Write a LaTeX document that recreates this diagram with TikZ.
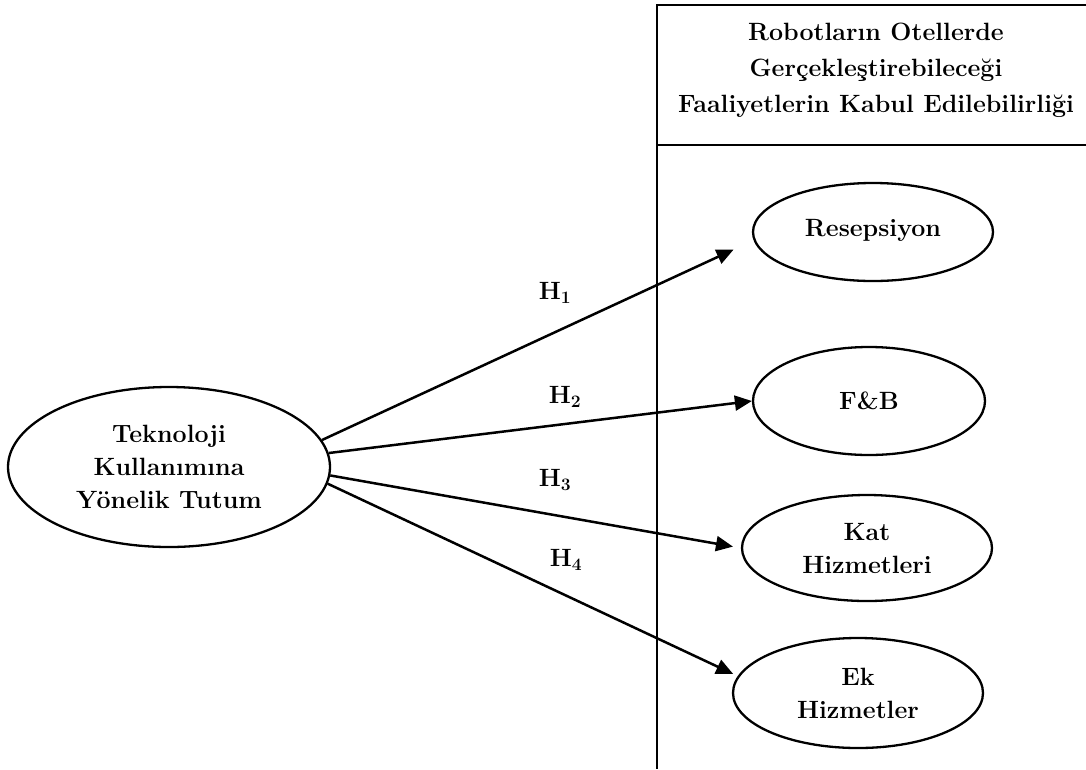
\documentclass[tikz,border=0pt]{standalone}
\usepackage{fontspec}
\usepackage{tikz}
\usetikzlibrary{shapes.geometric,arrows.meta}

\tikzset{
	konstrukt/.style={draw, ellipse, line width=2.3pt, inner sep=0pt, align=center,
		font=\bfseries\fontsize{25}{33}\selectfont},
	hipotez/.style={-{Triangle[length=17pt,width=15pt]}, line width=2.5pt},
	etiket/.style={font=\bfseries\fontsize{25}{28}\selectfont}
}

\begin{document}
\begin{tikzpicture}[x=1pt,y=-1pt]
	\useasboundingbox (0,0) rectangle (1086,769);
	%% header column
	\draw[line width=2.6pt] (1086,5) -- (657,5) -- (657,769);
	\draw[line width=2.6pt] (657,145) -- (1086,145);
	\node[align=center, font=\bfseries\fontsize{25}{36}\selectfont] (baslik) at (876,70)
		{Robotların Otellerde\\Gerçekleştirebileceği\\Faaliyetlerin Kabul Edilebilirliği};
	%% constructs
	\node[konstrukt, minimum width=322pt, minimum height=160pt] (tutum) at (169,467)
		{Teknoloji\\Kullanımına\\Yönelik Tutum};
	\node[konstrukt, minimum width=240pt, minimum height=98pt] (resepsiyon) at (873,232)
		{\raisebox{9pt}{Resepsiyon}};
	\node[konstrukt, minimum width=232pt, minimum height=108pt] (fb) at (869,401) {F\&B};
	\node[konstrukt, minimum width=250pt, minimum height=106pt] (kat) at (867,548) {Kat\\Hizmetleri};
	\node[konstrukt, minimum width=250pt, minimum height=110pt] (ek) at (858,693) {Ek\\Hizmetler};
	%% hypothesis labels
	\node[etiket] (h1) at (555,293) {H\textsubscript{1}};
	\node[etiket] (h2) at (565,397) {H\textsubscript{2}};
	\node[etiket] (h3) at (555,480) {H\textsubscript{3}};
	\node[etiket] (h4) at (566,560) {H\textsubscript{4}};
	%% paths
	\draw[hipotez, shorten >=22pt] (tutum.10) -- (resepsiyon.184);
	\draw[hipotez] (tutum.5) -- (fb.west);
	\draw[hipotez, shorten >=8pt] (tutum.-3) -- (kat.west);
	\draw[hipotez, shorten >=5pt] (tutum.-6) -- (ek.172);
\end{tikzpicture}
\end{document}
